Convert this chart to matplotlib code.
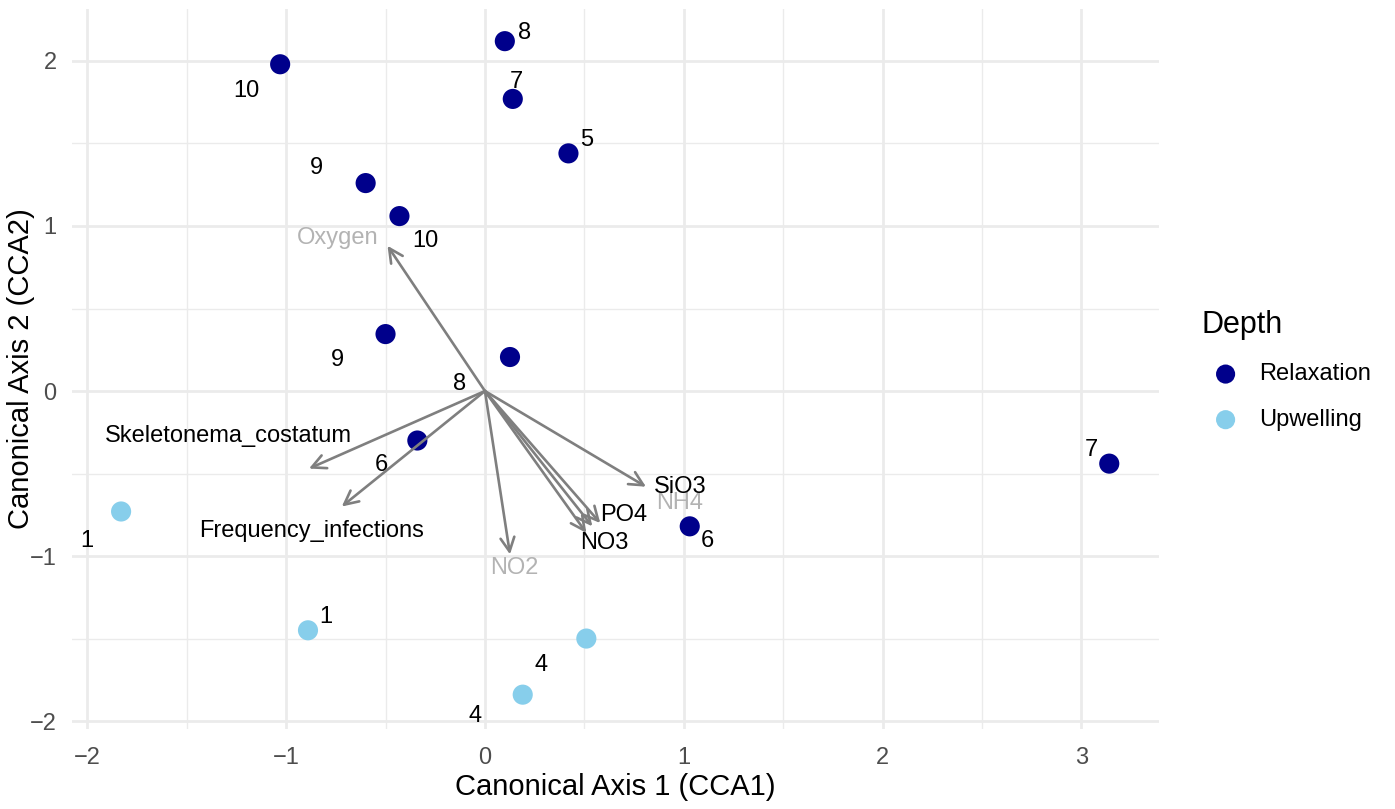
import numpy as np
import matplotlib.pyplot as plt

plt.rcParams['font.family'] = ['Liberation Sans', 'DejaVu Sans']

# site scores (CCA1, CCA2) with their labels
relax_x = [-1.03, 0.10, 0.14, 0.42, -0.60, -0.43, -0.50, 0.126, -0.34, 1.03, 3.14]
relax_y = [1.98, 2.12, 1.77, 1.44, 1.26, 1.06, 0.345, 0.206, -0.30, -0.82, -0.44]
relax_lab = ['10', '8', '7', '5', '9', '10', '9', '8', '6', '6', '7']
relax_lab_x = [-1.20, 0.20, 0.16, 0.51, -0.85, -0.30, -0.74, -0.13, -0.52, 1.12, 3.05]
relax_lab_y = [1.82, 2.17, 1.87, 1.52, 1.35, 0.91, 0.19, 0.04, -0.45, -0.91, -0.36]

upw_x = [-1.83, -0.89, 0.51, 0.19]
upw_y = [-0.73, -1.45, -1.50, -1.84]
upw_lab = ['1', '1', '4', '4']
upw_lab_x = [-2.00, -0.80, 0.28, -0.05]
upw_lab_y = [-0.91, -1.37, -1.66, -1.97]

# environmental vectors
env_names = ['Oxygen', 'Skeletonema_costatum', 'Frequency_infections', 'NO2', 'NO3', 'NH4', 'PO4', 'SiO3']
env_x = [-0.49, -0.885, -0.72, 0.126, 0.51, 0.54, 0.58, 0.81]
env_y = [0.88, -0.47, -0.70, -0.99, -0.86, -0.82, -0.80, -0.58]
env_lab_x = [-0.74, -1.29, -0.87, 0.15, 0.60, 0.98, 0.70, 0.98]
env_lab_y = [0.93, -0.27, -0.85, -1.07, -0.92, -0.68, -0.75, -0.58]
env_signif = [False, True, True, False, True, False, True, True]

fig = plt.figure(figsize=(13.95, 8.09), dpi=100)
ax = fig.add_axes([0.0516, 0.0989, 0.7792, 0.890])

ax.set_xlim(-2.077, 3.390)
ax.set_ylim(-2.048, 2.315)
ax.set_xticks([-2, -1, 0, 1, 2, 3])
ax.set_yticks([-2, -1, 0, 1, 2])
ax.set_xticks(np.arange(-1.5, 3.5, 1), minor=True)
ax.set_yticks(np.arange(-1.5, 2.5, 1), minor=True)
ax.set_xticklabels(['\u22122', '\u22121', '0', '1', '2', '3'])
ax.set_yticklabels(['\u22122', '\u22121', '0', '1', '2'])
ax.grid(which='major', color='#EBEBEB', linewidth=2.0)
ax.grid(which='minor', color='#EBEBEB', linewidth=1.0)
ax.tick_params(which='both', length=0, labelsize=17, labelcolor='#4D4D4D')
ax.tick_params(axis='x', pad=13)
ax.tick_params(axis='y', pad=11)
for s in ax.spines.values():
    s.set_visible(False)
ax.set_axisbelow(True)

ax.set_xlabel('Canonical Axis 1 (CCA1)', fontsize=21, labelpad=3)
ax.set_ylabel('Canonical Axis 2 (CCA2)', fontsize=21, labelpad=-4)

ax.scatter(relax_x, relax_y, s=210, color='#00008B', zorder=3, label='Relaxation', edgecolors='none')
ax.scatter(upw_x, upw_y, s=210, color='#87CEEB', zorder=3, label='Upwelling', edgecolors='none')

for lx, ly, t in zip(relax_lab_x + upw_lab_x, relax_lab_y + upw_lab_y, relax_lab + upw_lab):
    ax.text(lx, ly, t, fontsize=17, ha='center', va='center', zorder=4)

for name, ex, ey, lx, ly, sig in zip(env_names, env_x, env_y, env_lab_x, env_lab_y, env_signif):
    ax.annotate('', xy=(ex, ey), xytext=(0, 0),
                arrowprops=dict(arrowstyle='->,head_length=1.0,head_width=0.5',
                                color='#7F7F7F', lw=1.9, shrinkA=0, shrinkB=0),
                zorder=4)
    ax.text(lx, ly, name, fontsize=17, ha='center', va='center',
            color='black' if sig else '#B3B3B3', zorder=5)

leg = fig.legend(*ax.get_legend_handles_labels(), title='Depth', loc='upper left',
                 bbox_to_anchor=(0.8464, 0.6435), frameon=False, fontsize=17,
                 title_fontsize=22, markerscale=0.95, handletextpad=0.4, labelspacing=1.0)
leg._legend_box.align = 'left'

fig.savefig('out.png', dpi=100, facecolor='white')
